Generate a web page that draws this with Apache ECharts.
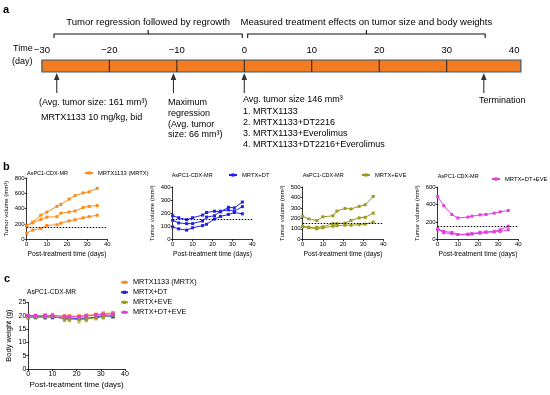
<!DOCTYPE html>
<html><head><meta charset="utf-8">
<script src="https://cdn.jsdelivr.net/npm/echarts@6/dist/echarts.min.js"></script>
<style>html,body{margin:0;padding:0;background:#fff}#c{width:550px;height:395px}</style>
</head><body><div id="c"></div>
<script>
// ---------- DATA ----------
const timelineRange = [-30, 41];
const dividerDays = [-20, -10, 0, 10, 20, 30];
const arrowDays = [-27.8, -10.5, 0, 35.5];
const bracketSpans = [[-28.2, -0.3], [0.5, 35.7]];
const bracketLabels = ['Tumor regression followed by regrowth', 'Measured treatment effects on tumor size and body weights'];

const days = [0, 3, 7, 10, 15, 17, 21, 24, 28, 31, 35];
const baselineVolume = 155;

const mrtxA = [175, 225, 315, 355, 430, 455, 525, 570, 605, 620, 665];
const mrtxB = [175, 215, 260, 290, 295, 340, 355, 370, 415, 430, 440];
const mrtxC = [80, 120, 140, 180, 190, 210, 240, 255, 280, 295, 315];

const dtA = [180, 165, 150, 165, 185, 205, 215, 210, 245, 240, 285];
const dtB = [145, 125, 120, 120, 140, 170, 180, 215, 225, 215, 250];
const dtC = [95, 80, 70, 88, 105, 115, 155, 175, 190, 205, 195];

const eveA = [220, 195, 180, 215, 225, 270, 295, 290, 315, 330, 410];
const eveB = [125, 115, 115, 120, 150, 150, 155, 180, 205, 210, 250];
const eveC = [120, 110, 100, 110, 125, 130, 135, 135, 140, 145, 165];

const tripleA = [490, 385, 285, 245, 255, 265, 280, 285, 300, 315, 330];
const tripleB = [120, 90, 80, 55, 60, 65, 80, 85, 90, 110, 150];
const tripleC = [115, 75, 65, 55, 55, 60, 70, 80, 85, 90, 110];

const bwMrtx = [20.0, 20.0, 20.0, 20.0, 19.8, 19.8, 19.8, 20.1, 20.4, 20.8, 21.0];
const bwDt = [19.5, 19.5, 19.5, 19.5, 19.0, 19.0, 19.0, 19.0, 19.5, 20.0, 19.7];
const bwEve = [19.3, 19.5, 19.6, 19.7, 18.8, 18.7, 18.5, 18.7, 19.2, 19.5, 20.2];
const bwTriple = [20.0, 20.0, 20.0, 20.0, 19.7, 19.6, 19.6, 19.9, 20.3, 20.5, 20.6];

const bwErrMrtx = [0.5, 0.5, 0.7, 0.7, 0.5, 0.5, 0.5, 0.5, 0.5, 0.6, 0.6];
const bwErrDt = [0.5, 0.5, 0.5, 0.5, 0.6, 0.6, 0.6, 0.6, 0.5, 0.5, 0.5];
const bwErrEve = [0.8, 0.8, 1.0, 1.0, 1.0, 1.0, 1.2, 1.0, 0.8, 0.8, 0.8];
const bwErrTriple = [0.4, 0.4, 0.4, 0.4, 0.4, 0.4, 0.4, 0.4, 0.4, 0.4, 0.4];

const groupNames = ['MRTX1133 (MRTX)', 'MRTX+DT', 'MRTX+EVE', 'MRTX+DT+EVE'];
const panelTitle = 'AsPC1-CDX-MR';
const xTitle = 'Post-treatment time (days)';
const yTitleTumor = 'Tumor volume (mm³)';
const yTitleBody = 'Body weight (g)';

// ---------- STYLE ----------
const FONT = '"Liberation Sans", Arial, sans-serif';
const COLORS = ['#FF8C1A', '#2222E6', '#9C9A1C', '#E040E0'];

function xAx(gi, fs, nameFs, gap) {
  return {
    gridIndex: gi, type: 'value', min: 0, max: 40, interval: 10,
    name: xTitle, nameLocation: 'middle', nameGap: gap,
    nameTextStyle: {fontFamily: FONT, fontSize: nameFs, color: '#000'},
    axisLine: {lineStyle: {color: '#000', width: 0.8}},
    axisTick: {length: 2, lineStyle: {color: '#000', width: 0.8}},
    axisLabel: {fontFamily: FONT, fontSize: fs, color: '#000', margin: 2},
    splitLine: {show: false}
  };
}
function yAx(gi, max, interval, name, fs, nameFs, gap) {
  return {
    gridIndex: gi, type: 'value', min: 0, max: max, interval: interval,
    name: name, nameLocation: 'middle', nameGap: gap,
    nameTextStyle: {fontFamily: FONT, fontSize: nameFs, color: '#000'},
    axisLine: {show: true, lineStyle: {color: '#000', width: 0.8}},
    axisTick: {show: true, length: 2, lineStyle: {color: '#000', width: 0.8}},
    axisLabel: {fontFamily: FONT, fontSize: fs, color: '#000', margin: 2},
    splitLine: {show: false}
  };
}
function lineS(name, color, values, ai, size, extra) {
  return Object.assign({
    type: 'line', name: name, xAxisIndex: ai, yAxisIndex: ai,
    data: days.map((d, i) => [d, values[i]]),
    symbol: 'rect', symbolSize: size, showSymbol: true,
    itemStyle: {color: color}, lineStyle: {color: color, width: 1},
    animation: false, z: 3
  }, extra || {});
}
function errS(color, values, errs, ai) {
  return {
    type: 'custom', xAxisIndex: ai, yAxisIndex: ai, animation: false, silent: true, z: 2,
    data: days.map((d, i) => [d, values[i] - errs[i], values[i] + errs[i]]),
    renderItem: (params, api) => {
      const lo = api.coord([api.value(0), api.value(1)]);
      const hi = api.coord([api.value(0), api.value(2)]);
      const x = lo[0], w = 1.6;
      return {type: 'group', children: [
        {type: 'line', shape: {x1: x, y1: lo[1], x2: x, y2: hi[1]}, style: {stroke: color, lineWidth: 0.8}},
        {type: 'line', shape: {x1: x - w, y1: lo[1], x2: x + w, y2: lo[1]}, style: {stroke: color, lineWidth: 0.8}},
        {type: 'line', shape: {x1: x - w, y1: hi[1], x2: x + w, y2: hi[1]}, style: {stroke: color, lineWidth: 0.8}}
      ]};
    }
  };
}
function baseLine() {
  return {markLine: {silent: true, symbol: 'none', animation: false,
    label: {show: false}, lineStyle: {type: [1.5, 1.5], color: '#000', width: 1},
    data: [{yAxis: baselineVolume}]}};
}

const grids = [
  {left: 41.9, top: 60, width: 479, height: 12},
  {left: 26.7, top: 178, width: 80.6, height: 61.3},
  {left: 172.7, top: 187, width: 79.6, height: 52.3},
  {left: 302.7, top: 187, width: 80.6, height: 52.3},
  {left: 437.7, top: 187, width: 80.6, height: 52.3},
  {left: 28.3, top: 302.3, width: 96.7, height: 66.7}
];

const xAxes = [
  {gridIndex: 0, type: 'value', min: timelineRange[0], max: timelineRange[1], interval: 10, position: 'top',
   axisLine: {show: false}, axisTick: {show: false}, splitLine: {show: false},
   axisLabel: {fontFamily: FONT, fontSize: 9.5, color: '#000', margin: 5, showMaxLabel: false,
     formatter: v => (v % 10 === 0 ? String(v).replace('-', '\u2212') : '')}},
  xAx(1, 6, 6.7, 11), xAx(2, 6, 6.7, 11), xAx(3, 6, 6.7, 11), xAx(4, 6, 6.7, 11),
  xAx(5, 7, 8, 12)
];
const yAxes = [
  {gridIndex: 0, type: 'value', min: 0, max: 1, show: false},
  yAx(1, 800, 200, yTitleTumor, 6, 6, 17),
  yAx(2, 400, 100, yTitleTumor, 6, 6, 17),
  yAx(3, 500, 100, yTitleTumor, 6, 6, 17),
  yAx(4, 600, 200, yTitleTumor, 6, 6, 17),
  yAx(5, 25, 5, yTitleBody, 7, 7.5, 15)
];

const series = [];
// Timeline bar
series.push({type: 'custom', xAxisIndex: 0, yAxisIndex: 0, animation: false, silent: true,
  data: [[timelineRange[0], timelineRange[1]]],
  renderItem: (params, api) => {
    const p0 = api.coord([api.value(0), 0]);
    const p1 = api.coord([api.value(1), 1]);
    return {type: 'rect', shape: {x: p0[0], y: p1[1], width: p1[0] - p0[0], height: p0[1] - p1[1]},
      style: {fill: '#F47B20', stroke: '#2B5D7A', lineWidth: 1.2}};
  }});
// Dividers
series.push({type: 'custom', xAxisIndex: 0, yAxisIndex: 0, animation: false, silent: true,
  data: dividerDays.map(d => [d]),
  renderItem: (params, api) => {
    const a = api.coord([api.value(0), 0]);
    const b = api.coord([api.value(0), 1]);
    return {type: 'line', shape: {x1: a[0], y1: a[1], x2: b[0], y2: b[1]}, style: {stroke: '#222', lineWidth: 1}};
  }});
// Arrows
series.push({type: 'custom', xAxisIndex: 0, yAxisIndex: 0, animation: false, silent: true,
  data: arrowDays.map(d => [d]),
  renderItem: (params, api) => {
    const a = api.coord([api.value(0), 0]);
    const x = a[0], y = a[1] + 1;
    return {type: 'group', children: [
      {type: 'polygon', shape: {points: [[x, y], [x - 2.8, y + 7], [x + 2.8, y + 7]]}, style: {fill: '#333'}},
      {type: 'line', shape: {x1: x, y1: y + 6, x2: x, y2: y + 20}, style: {stroke: '#333', lineWidth: 1.1}}
    ]};
  }});
// Brackets
series.push({type: 'custom', xAxisIndex: 0, yAxisIndex: 0, animation: false, silent: true,
  data: bracketSpans.map((s, i) => [s[0], s[1], i]),
  renderItem: (params, api) => {
    const a = api.coord([api.value(0), 1]);
    const b = api.coord([api.value(1), 1]);
    const yTop = a[1];
    const yl = yTop - 26, yEnd = yTop - 22, yMid = yTop - 30;
    const xm = (a[0] + b[0]) / 2;
    return {type: 'group', children: [
      {type: 'polyline', shape: {points: [[a[0], yEnd], [a[0], yl], [b[0], yl], [b[0], yEnd]]},
       style: {stroke: '#111', lineWidth: 1.1, fill: null}},
      {type: 'line', shape: {x1: xm, y1: yl, x2: xm, y2: yMid}, style: {stroke: '#111', lineWidth: 1.1}},
      {type: 'text', x: xm, y: yTop - 38, style: {text: bracketLabels[api.value(2)], font: '9.5px ' + FONT,
        fill: '#000', align: 'center', verticalAlign: 'middle'}}
    ]};
  }});

// Panel b
series.push(lineS(groupNames[0], COLORS[0], mrtxA, 1, 3, baseLine()));
series.push(lineS(groupNames[0], COLORS[0], mrtxB, 1, 3));
series.push(lineS(groupNames[0], COLORS[0], mrtxC, 1, 3));
series.push(lineS(groupNames[1], COLORS[1], dtA, 2, 3, baseLine()));
series.push(lineS(groupNames[1], COLORS[1], dtB, 2, 3));
series.push(lineS(groupNames[1], COLORS[1], dtC, 2, 3));
series.push(lineS(groupNames[2], COLORS[2], eveA, 3, 3, baseLine()));
series.push(lineS(groupNames[2], COLORS[2], eveB, 3, 3));
series.push(lineS(groupNames[2], COLORS[2], eveC, 3, 3));
series.push(lineS(groupNames[3], COLORS[3], tripleA, 4, 3, baseLine()));
series.push(lineS(groupNames[3], COLORS[3], tripleB, 4, 3));
series.push(lineS(groupNames[3], COLORS[3], tripleC, 4, 3));
// Panel c
const bwVals = [bwMrtx, bwDt, bwEve, bwTriple];
const bwErrs = [bwErrMrtx, bwErrDt, bwErrEve, bwErrTriple];
bwVals.forEach((v, i) => series.push(errS(COLORS[i], v, bwErrs[i], 5)));
bwVals.forEach((v, i) => series.push(lineS(groupNames[i], COLORS[i], v, 5, 3.5)));

function legendB(name, left, top) {
  return {data: [name], left: left, top: top, orient: 'horizontal', itemWidth: 8, itemHeight: 4,
    selectedMode: false, padding: 0, textStyle: {fontFamily: FONT, fontSize: 5.8, color: '#000'}};
}
const legends = [
  legendB(groupNames[0], 84, 170),
  legendB(groupNames[1], 228, 172),
  legendB(groupNames[2], 361, 172),
  legendB(groupNames[3], 491, 176),
  {data: groupNames, left: 120, top: 277.8, orient: 'vertical', itemWidth: 7, itemHeight: 4, itemGap: 1,
   selectedMode: false, padding: 0, textStyle: {fontFamily: FONT, fontSize: 7.3, color: '#000', lineHeight: 9}}
];

function ttl(left, top, fs) {
  return {text: panelTitle, left: left, top: top, padding: 0,
    textStyle: {fontFamily: FONT, fontSize: fs, fontWeight: 'normal', color: '#000'}};
}
const titles = [ttl(27, 170.5, 5.5), ttl(171.7, 172, 5.5), ttl(302.7, 172, 5.5), ttl(437.7, 173, 5.5), ttl(27, 289, 6.6)];

function txt(x, y, s, size, bold) {
  return {type: 'text', x: x, y: y, silent: true,
    style: {text: s, font: (bold ? 'bold ' : '') + size + 'px ' + FONT, fill: '#000', align: 'left', verticalAlign: 'middle'}};
}
const graphics = [
  txt(3, 9.5, 'a', 11, true),
  txt(3, 167, 'b', 11, true),
  txt(4, 279, 'c', 11, true),
  txt(13, 49, 'Time', 9),
  txt(12, 62, '(day)', 9),
  txt(39, 103, '(Avg. tumor size: 161 mm³)', 9),
  txt(41, 118, 'MRTX1133 10 mg/kg, bid', 9),
  txt(168, 103, 'Maximum', 9),
  txt(168, 114, 'regression', 9),
  txt(168, 124.5, '(Avg. tumor', 9),
  txt(168, 135, 'size: 66 mm³)', 9),
  txt(243, 100, 'Avg. tumor size 146 mm³', 9),
  txt(243, 111.5, '1. MRTX1133', 9),
  txt(243, 122.5, '2. MRTX1133+DT2216', 9),
  txt(243, 133.5, '3. MRTX1133+Everolimus', 9),
  txt(243, 144.5, '4. MRTX1133+DT2216+Everolimus', 9),
  txt(479, 101, 'Termination', 9)
];

const chart = echarts.init(document.getElementById('c'), null, {renderer: 'canvas'});
chart.setOption({
  animation: false, backgroundColor: '#fff',
  title: titles, legend: legends, grid: grids, xAxis: xAxes, yAxis: yAxes,
  series: series, graphic: graphics
});
</script></body></html>
